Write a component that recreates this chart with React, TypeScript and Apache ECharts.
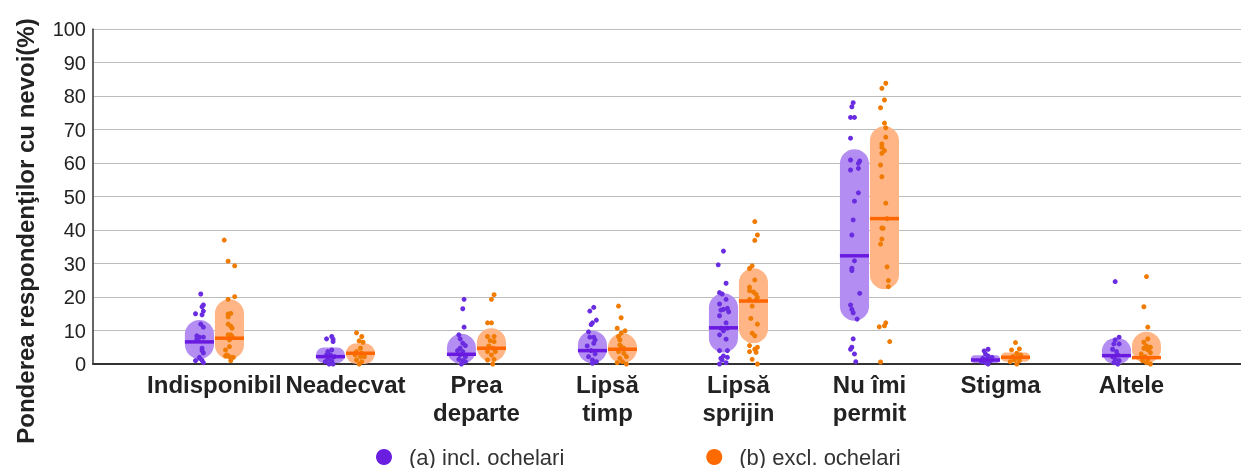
import React, { useEffect, useRef } from "react";
import * as echarts from "echarts";

// ---- Data ----
const categories = [
  "Indisponibil",
  "Neadecvat",
  "Prea\ndeparte",
  "Lipsă\ntimp",
  "Lipsă\nsprijin",
  "Nu îmi\npermit",
  "Stigma",
  "Altele",
];
const yTicks = [0, 10, 20, 30, 40, 50, 60, 70, 80, 90, 100];

const seriesNames = ["(a) incl. ochelari", "(b) excl. ochelari"];

// box (pill) extents and medians, per category
const lowA = [1.5, 0.3, 0, 0.2, 3.4, 12.9, 0.3, 0];
const highA = [13.1, 4.9, 9.0, 9.9, 21.1, 64.1, 2.6, 7.7];
const medA = [6.6, 2.2, 2.9, 4.0, 10.8, 32.3, 1.2, 2.5];

const lowB = [1.4, 0, 0.7, 0.2, 6.2, 22.3, 0.7, 0.2];
const highB = [19.3, 6.2, 10.7, 9.2, 28.6, 71.0, 3.4, 9.6];
const medB = [7.7, 3.2, 4.7, 4.4, 18.8, 43.4, 2.0, 1.9];

// individual points (values) per category
const valuesA = [
  [20.9, 17.6, 17.1, 15.8, 15.0, 14.7, 11.9, 11.0, 8.4, 8.0, 8.0, 7.4, 7.1, 4.7, 4.0, 3.3, 2.0, 1.0, 1.1, 0.4, 1.7],
  [7.5, 8.2, 7.4, 6.7, 4.2, 3.7, 2.7, 2.7, 2.2, 1.4, 1.0, 0.7, 0, 0],
  [19.3, 16.5, 11.0, 8.7, 7.5, 6.2, 5.5, 4.7, 4.0, 3.7, 2.7, 2.2, 1.4, 1.0, 0, 0.7],
  [16.9, 15.8, 13.1, 11.8, 12.3, 9.6, 8.0, 8.0, 7.2, 6.2, 5.4, 4.0, 3.0, 2.2, 1.2, 0.7, 0.2],
  [33.7, 29.6, 24.1, 21.3, 20.9, 19.3, 17.9, 16.3, 16.6, 16.1, 15.6, 14.4, 12.3, 10.7, 9.9, 10.7, 8.7, 7.4, 4.0, 4.0, 2.4, 1.7, 2.0, 1.2, 0.4, 0],
  [78.0, 76.8, 73.6, 73.6, 67.4, 60.9, 60.6, 59.9, 57.9, 58.4, 51.1, 48.6, 43.0, 38.5, 30.8, 28.6, 27.9, 21.1, 17.6, 16.3, 15.3, 13.4, 7.5, 4.4, 5.0, 3.0, 0.7],
  [3.9, 4.4, 3.0, 2.4, 2.0, 1.7, 1.4, 1.0, 0.4, 0, 0.7],
  [24.6, 8.0, 7.2, 6.0, 6.0, 4.4, 3.7, 2.7, 2.2, 1.4, 1.0, 0.4, 0],
];
// horizontal jitter of each point, in % of a category band
const jitterA = [
  [1, 3, 2, 3, -3, 2, 1, 3, -2, 0, 3, -2, -1, 2, 2, 3, 0, -3, 2, 3, 0],
  [-3, 1, 2, 2, 1, -2, -3, 0, 3, -2, 1, -4, 2, -1],
  [2, 1, 2, -2, -1, 1, 3, -1, -3, 1, -1, 3, -2, 1, 0, 3],
  [1, -2, 3, -1, 0, -3, -2, 1, 2, 1, -4, -1, 2, -3, 0, 3, 0],
  [0, -4, 2, -3, -1, 2, -3, 0, 3, -2, 4, -3, 2, -2, 0, 3, -3, 2, -3, 3, 0, -2, 3, -1, 2, -3],
  [-1, -2, -3, 0, -3, -3, 4, 3, -3, 3, 3, 0, -1, -2, 0, -2, -2, 4, -3, -2, -1, 2, -1, -3, -2, 0, 1],
  [-1, 2, 0, 2, 5, -2, 1, 4, 0, 2, -3],
  [-1, 2, -1, 2, -2, -3, 0, 1, -3, -1, 2, -2, 1],
];

const valuesB = [
  [37.0, 30.7, 29.3, 20.1, 19.3, 14.9, 15.1, 14.1, 11.9, 11.3, 10.7, 8.7, 8.7, 8.2, 7.2, 5.2, 4.2, 2.7, 2.2, 2.0, 1.0, 2.4],
  [9.3, 8.2, 6.9, 6.5, 4.7, 3.7, 3.2, 2.7, 2.2, 1.2, 0.7, 0, 2.2],
  [20.7, 19.3, 12.3, 12.3, 8.2, 8.2, 7.0, 6.7, 5.4, 4.7, 3.7, 3.7, 2.7, 1.2, 1.4, 0],
  [17.3, 13.8, 10.7, 9.9, 9.2, 8.2, 7.2, 5.7, 5.2, 4.7, 3.7, 3.2, 2.2, 1.7, 0.4, 0, 0.7],
  [42.5, 38.5, 36.9, 29.3, 28.5, 25.1, 22.9, 21.9, 21.5, 20.8, 19.9, 19.3, 19.1, 17.3, 13.6, 11.9, 9.2, 8.4, 5.5, 5.0, 4.4, 3.7, 3.5, 1.4, 0],
  [83.8, 82.3, 78.8, 76.5, 71.9, 70.5, 67.7, 65.7, 64.7, 63.7, 62.9, 59.4, 55.9, 48.0, 43.4, 40.6, 40.5, 37.3, 35.8, 29.0, 24.9, 23.1, 12.3, 11.1, 11.4, 6.7, 0.6],
  [6.4, 4.2, 4.5, 3.2, 2.7, 2.2, 1.7, 1.2, 0.7, 0, 1.0],
  [26.1, 17.1, 11.0, 7.5, 6.5, 5.4, 5.0, 4.7, 4.2, 3.4, 3.0, 2.2, 1.4, 1.0, 0.4, 0],
];
const jitterB = [
  [-4, -1, 4, 4, -1, -1, 1, -1, -1, 1, 2, -1, 1, 2, 0, 0, -3, -2, 0, 3, 1, -3],
  [-3, 1, -1, 2, 0, -3, 1, -4, 0, -3, 1, -1, 3],
  [2, 0, -3, 0, -3, 2, -1, 2, -2, 1, -3, 3, 0, -3, 2, 1],
  [-3, -1, -4, 2, -1, -3, -2, -2, -1, 1, -3, 1, 3, -2, -4, 3, 0],
  [1, 3, 1, -1, -3, 1, -3, -3, 0, 2, 3, -3, 2, -1, -2, 3, -1, 1, -3, 3, 1, -3, 2, -1, 3],
  [1, -2, 0, -3, 0, 1, 1, -2, -2, 0, -2, -3, -2, 1, 2, -2, -1, -2, -3, 2, 3, 3, 1, -4, 0, 4, -3],
  [0, -3, 3, 1, 4, -2, 2, -1, -4, 1, 3],
  [0, -2, 1, 1, -2, 0, 3, -2, 1, 3, -4, -1, 1, -3, 0, 3],
];

// ---- Style constants ----
const GROUP_OFFSET = 0.1145;
const PILL_WIDTH = 0.222;
const X_MIN = -0.927;
const X_MAX = 7.836;
const FONT = "'Liberation Sans', Arial, Helvetica, sans-serif";

const PURPLE_DOT = "#6a2ce0";
const ORANGE_DOT = "#f07b00";
const PURPLE_PILL = "#b38df1";
const ORANGE_PILL = "#ffb585";
const PURPLE_MED = "#6a1ae0";
const ORANGE_MED = "#ff6600";
const PURPLE_LEG = "#6a1fe0";
const ORANGE_LEG = "#ff6a00";

function buildDots(values: number[][], jitter: number[][], sign: number) {
  const out: number[][] = [];
  values.forEach((arr, i) => {
    arr.forEach((v, k) => {
      out.push([i + sign * GROUP_OFFSET + jitter[i][k] / 100, v]);
    });
  });
  return out;
}

function buildBoxes(low: number[], high: number[], med: number[], sign: number) {
  return categories.map((_, i) => [i, sign, low[i], high[i], med[i]]);
}

function pillRenderer(fill: string) {
  return (params: any, api: any) => {
    const cx = api.value(0) + api.value(1) * GROUP_OFFSET;
    const top = api.coord([cx, api.value(3)]);
    const bot = api.coord([cx, api.value(2)]);
    const w = api.size([PILL_WIDTH, 0])[0];
    const h = Math.max(bot[1] - top[1], 1);
    return {
      type: "rect",
      shape: { x: top[0] - w / 2, y: top[1], width: w, height: h, r: Math.min(w / 2, h / 2) },
      style: { fill },
    };
  };
}

function medianRenderer(stroke: string) {
  return (params: any, api: any) => {
    const cx = api.value(0) + api.value(1) * GROUP_OFFSET;
    const p = api.coord([cx, api.value(4)]);
    const w = api.size([PILL_WIDTH, 0])[0];
    return {
      type: "line",
      shape: { x1: p[0] - w / 2, y1: p[1], x2: p[0] + w / 2, y2: p[1] },
      style: { stroke, lineWidth: 3.5 },
    };
  };
}

export default function App() {
  const ref = useRef<HTMLDivElement>(null);
  useEffect(() => {
    if (!ref.current) return;
    const chart = echarts.init(ref.current, null, { renderer: "svg" });
    const boxesA = buildBoxes(lowA, highA, medA, -1);
    const boxesB = buildBoxes(lowB, highB, medB, 1);
    chart.setOption({
      animation: false,
      textStyle: { fontFamily: FONT },
      grid: { left: 93, right: 0, top: 29, bottom: 104, containLabel: false },
      legend: {
        data: [
          { name: seriesNames[0], itemStyle: { color: PURPLE_LEG } },
          { name: seriesNames[1], itemStyle: { color: ORANGE_LEG } },
        ],
        icon: "circle",
        itemWidth: 16,
        itemHeight: 16,
        itemGap: 142,
        left: 371,
        top: 441,
        textStyle: { fontSize: 22, lineHeight: 22, color: "#333", fontFamily: FONT, padding: [0, 0, 0, 12] },
        selectedMode: false,
      },
      xAxis: {
        type: "value",
        min: X_MIN,
        max: X_MAX,
        splitLine: { show: false },
        axisTick: { show: false },
        axisLine: { show: true, onZero: false, lineStyle: { color: "#333", width: 2 } },
        axisLabel: {
          customValues: categories.map((_, i) => i),
          formatter: (v: number) => categories[Math.round(v)] ?? "",
          fontSize: 24,
          fontWeight: "bold",
          lineHeight: 28,
          color: "#222",
          margin: 6,
          fontFamily: FONT,
        },
      },
      yAxis: {
        type: "value",
        min: 0,
        max: 100,
        interval: 10,
        axisLine: { show: true, onZero: false, lineStyle: { color: "#333", width: 1.5 } },
        axisTick: { show: false },
        splitLine: { show: true, lineStyle: { color: "#bcbcbc", width: 1 } },
        axisLabel: {
          fontSize: 20,
          color: "#222",
          margin: 7,
          fontFamily: FONT,
          customValues: yTicks,
        },
      },
      graphic: [
        {
          type: "text",
          x: 25,
          y: 231,
          rotation: Math.PI / 2,
          style: {
            text: "Ponderea respondenţilor cu nevoi(%)",
            font: `bold 24px ${FONT}`,
            fill: "#222",
            textAlign: "center",
            textVerticalAlign: "middle",
          },
        },
      ],
      series: [
        {
          type: "custom",
          name: "boxA",
          renderItem: pillRenderer(PURPLE_PILL),
          data: boxesA,
          z: 1,
          silent: true,
          clip: false,
        },
        {
          type: "custom",
          name: "boxB",
          renderItem: pillRenderer(ORANGE_PILL),
          data: boxesB,
          z: 1,
          silent: true,
          clip: false,
        },
        {
          type: "scatter",
          name: seriesNames[0],
          data: buildDots(valuesA, jitterA, -1),
          symbolSize: 5,
          itemStyle: { color: PURPLE_DOT, opacity: 1 },
          z: 2,
        },
        {
          type: "scatter",
          name: seriesNames[1],
          data: buildDots(valuesB, jitterB, 1),
          symbolSize: 5,
          itemStyle: { color: ORANGE_DOT, opacity: 1 },
          z: 2,
        },
        {
          type: "custom",
          name: "medA",
          renderItem: medianRenderer(PURPLE_MED),
          data: boxesA,
          z: 3,
          silent: true,
          clip: false,
        },
        {
          type: "custom",
          name: "medB",
          renderItem: medianRenderer(ORANGE_MED),
          data: boxesB,
          z: 3,
          silent: true,
          clip: false,
        },
      ],
    });
    return () => chart.dispose();
  }, []);
  return (
    <div
      ref={ref}
      style={{ position: "fixed", left: 0, top: 0, width: 1241, height: 468 }}
    />
  );
}
